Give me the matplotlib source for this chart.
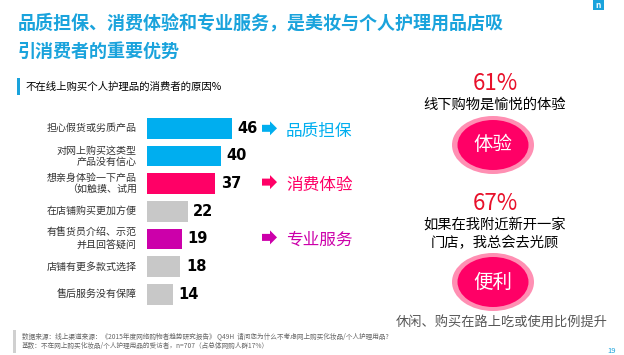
import matplotlib.pyplot as plt
from matplotlib.patches import Ellipse, Rectangle, Polygon

plt.rcParams['font.family'] = ['Noto Sans CJK SC', 'DejaVu Sans']

reasons = ['担心假货或劣质产品', '对网上购买这类型\n产品没有信心', '想亲身体验一下产品\n（如触摸、试用',
           '在店铺购买更加方便', '有售货员介绍、示范\n并且回答疑问', '店铺有更多款式选择', '售后服务没有保障']
values = [46, 40, 37, 22, 19, 18, 14]
blue, pink, magenta, grey = '#00AEEF', '#FF0066', '#CC00AA', '#C8C8C8'
bar_colors = [blue, blue, pink, grey, magenta, grey, grey]

groups = ['品质担保', '消费体验', '专业服务']
group_rows = [0, 2, 4]
group_colors = [blue, pink, magenta]

W, H = 624, 355
fig = plt.figure(figsize=(W / 100, H / 100), dpi=100)

# overlay in pixel coords for the slide decoration
bg = fig.add_axes([0, 0, 1, 1])
bg.set_xlim(0, W)
bg.set_ylim(H, 0)
bg.axis('off')

bg.text(18, 23, '品质担保、消费体验和专业服务，是美妆与个人护理用品店吸', color='#1AA3DC',
        fontsize=13, fontweight='bold', va='center')
bg.text(18, 51, '引消费者的重要优势', color='#1AA3DC', fontsize=13, fontweight='bold', va='center')
bg.add_patch(Rectangle((17, 78), 2.5, 17, color='#1AA3DC', lw=0))
bg.text(26, 86.5, '不在线上购买个人护理品的消费者的原因%', fontsize=7.5, va='center')

# logo
bg.add_patch(Rectangle((593, 0), 11, 10, color='#1AA3DC', lw=0))
bg.text(598.5, 5, 'n', color='white', fontsize=6, ha='center', va='center', fontweight='bold')

# right panel
cx = 495
bg.text(cx, 83, '61%', color='#E8102A', fontsize=16, ha='center', va='center')
bg.text(cx, 105, '线下购物是愉悦的体验', fontsize=10.3, ha='center', va='center')
bg.text(cx, 203, '67%', color='#E8102A', fontsize=16, ha='center', va='center')
bg.text(cx, 225, '如果在我附近新开一家', fontsize=10.3, ha='center', va='center')
bg.text(cx, 243, '门店，我总会去光顾', fontsize=10.3, ha='center', va='center')
for ey, word in [(145, '体验'), (282, '便利')]:
    bg.add_patch(Ellipse((493, ey), 82, 58, color='#FF8FB3', lw=0))
    bg.add_patch(Ellipse((493, ey), 71, 50, color='#FF0066', lw=0))
    bg.text(493, ey, word, color='white', fontsize=14, ha='center', va='center')
bg.text(502, 323, '休闲、购买在路上吃或使用比例提升', color='#555555', fontsize=9.5,
        ha='center', va='center')

# footnote
bg.add_patch(Rectangle((13, 330), 3, 23, color='#D0D0D0', lw=0))
bg.text(22, 336, '数据来源：线上渠道来源：《2015年度网络购物者趋势研究报告》 Q49H  请问您为什么不考虑网上购买化妆品/个人护理用品?',
        color='#666666', fontsize=4.8, style='italic', va='center')
bg.text(22, 345.5, '基数：不在网上购买化妆品/个人护理用品的受访者，n=707（占总体网购人群17%）',
        color='#666666', fontsize=4.8, style='italic', va='center')
bg.text(612, 351, '19', color='#1AA3DC', fontsize=5.5, ha='center', va='center')

# bar chart
px_per_unit = 1.85
left, right, top, bottom = 147, 390, 114.5, 308
ax = fig.add_axes([left / W, 1 - bottom / H, (right - left) / W, (bottom - top) / H])
ax.set_xlim(0, (right - left) / px_per_unit)
ax.set_ylim(len(values) - 0.5, -0.5)
ax.axis('off')
rows = list(range(len(values)))
ax.barh(rows, values, height=0.75, color=bar_colors)
for r, v, lab in zip(rows, values, reasons):
    ax.text(v + 3, r, str(v), fontsize=10.5, fontweight='bold', va='center', ha='left',
            family=['DejaVu Sans'])
    ax.text(-5.5, r, lab, fontsize=7.2, va='center', ha='right', color='#333333',
            linespacing=1.15)

# block arrows + group labels
row_h = (bottom - top) / len(values)
for g, r, c in zip(groups, group_rows, group_colors):
    y = top + (r + 0.5) * row_h - (1.5 if r else 0)
    x0, x1, xh = 262, 277, 270
    arrow = [(x0, y - 3.5), (xh, y - 3.5), (xh, y - 7), (x1, y), (xh, y + 7),
             (xh, y + 3.5), (x0, y + 3.5)]
    bg.add_patch(Polygon(arrow, closed=True, color=c, lw=0))
    bg.text(286, y + 3, g, color=c, fontsize=12, va='center', ha='left')

fig.savefig('out.png', dpi=100)
